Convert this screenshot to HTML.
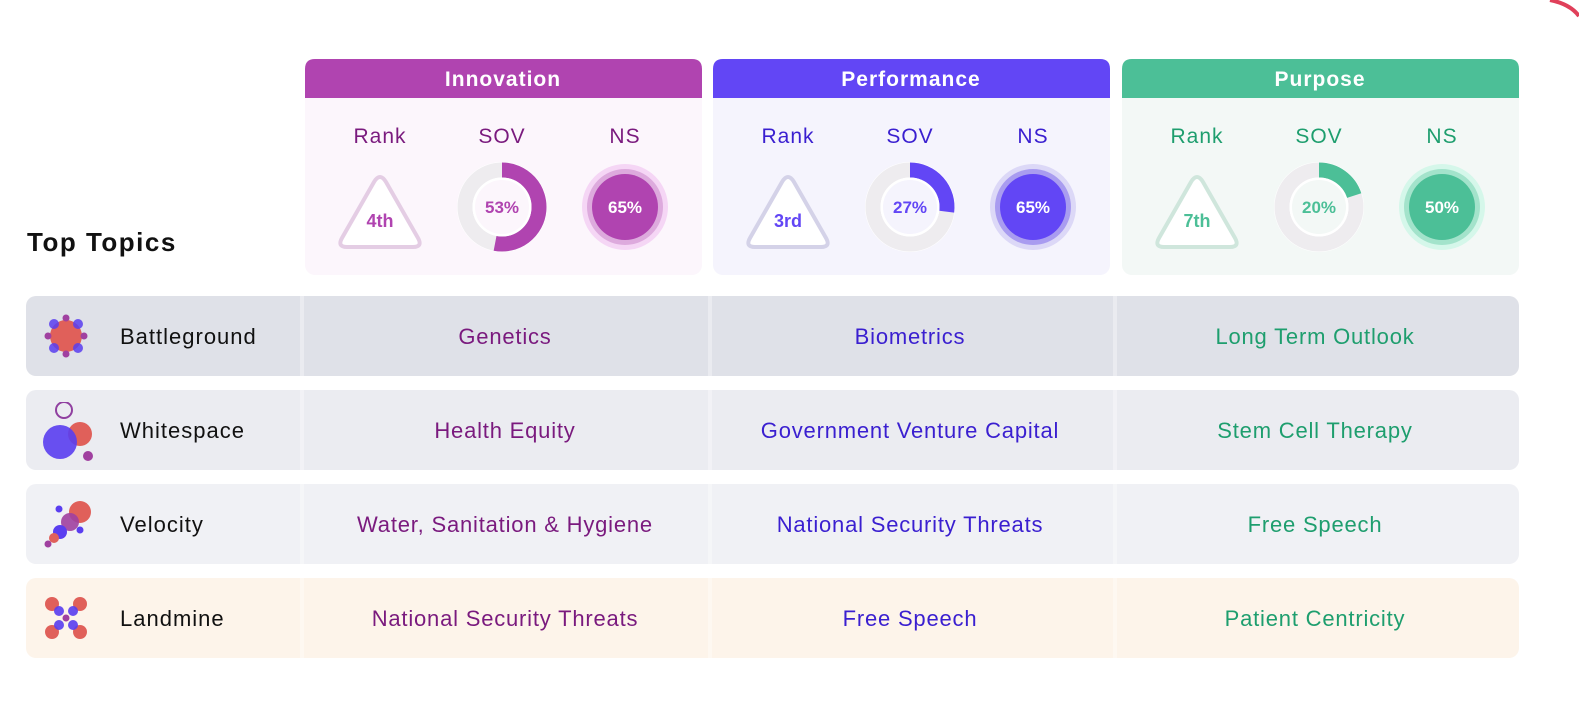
<!DOCTYPE html>
<html><head><meta charset="utf-8">
<style>
body{margin:0;width:1579px;height:703px;background:#fff;font-family:"Liberation Sans","DejaVu Sans",sans-serif;position:relative;overflow:hidden}
.abs{position:absolute}
.title{left:27px;top:227px;font-size:26px;letter-spacing:1.5px;font-weight:bold;color:#111}
.row{position:absolute;left:26px;width:1493px;height:80px;border-radius:10px}
.sep{position:absolute;top:0;width:4px;height:80px;background:rgba(255,255,255,0.35)}
.rlabel{position:absolute;left:94px;top:28px;font-size:22px;letter-spacing:1px;color:#111}
.cell{position:absolute;top:28px;width:440px;text-align:center;font-size:22px;letter-spacing:0.8px}
</style></head>
<body>
<svg class="abs" style="left:1520px;top:0" width="59" height="30"><path d="M30,0 Q50,4 59,16" stroke="#e0405a" stroke-width="4" fill="none"/></svg>
<div class="abs title">Top Topics</div>
<svg id="chart" class="abs" style="left:0;top:0" width="1579" height="290"></svg>
<div id="rows"></div>
<script>
const pillars=["Innovation","Performance","Purpose"];
const ranks=["4th","3rd","7th"];
const sov=[53,27,20];
const ns=[65,65,50];
const topics=["Battleground","Whitespace","Velocity","Landmine"];
const cellsInnovation=["Genetics","Health Equity","Water, Sanitation & Hygiene","National Security Threats"];
const cellsPerformance=["Biometrics","Government Venture Capital","National Security Threats","Free Speech"];
const cellsPurpose=["Long Term Outlook","Stem Cell Therapy","Free Speech","Patient Centricity"];

const theme=[
 {head:"#b044b0",text:"#7a1a7e",body:"#fcf6fc",tri:"#e4cde4",val:"#b044b0",ring1:"#f5d6f5",ring2:"#ddaadd"},
 {head:"#6246f5",text:"#3a1fd0",body:"#f5f4fd",tri:"#d4d2e8",val:"#6246f5",ring1:"#dcd8f7",ring2:"#a99cf0"},
 {head:"#4cbf97",text:"#1e9e6e",body:"#f3f8f6",tri:"#cfe6dc",val:"#4cbf97",ring1:"#d5f7ea",ring2:"#a3e3cb"}];
const NS="http://www.w3.org/2000/svg";
const svg=document.getElementById('chart');
function mk(t,a,p){const e=document.createElementNS(NS,t);for(const k in a)e.setAttribute(k,a[k]);(p||svg).appendChild(e);return e;}
const px=[305,713,1122];
pillars.forEach((p,i)=>{
 const x=px[i],th=theme[i];
 const g=mk('g',{});
 
 
 mk('rect',{x:x,y:59,width:397,height:216,rx:10,fill:th.body},g);
 mk('path',{d:`M${x},98 V69 Q${x},59 ${x+10},59 H${x+387} Q${x+397},59 ${x+397},69 V98 Z`,fill:th.head},g);
 const h=mk('text',{x:x+198,y:86,'text-anchor':'middle','font-size':21,'letter-spacing':1,'font-weight':'bold',fill:'#fff'},g);h.textContent=p;
 [["Rank",75],["SOV",197],["NS",320]].forEach(([l,o])=>{const t=mk('text',{x:x+o,y:143,'text-anchor':'middle','font-size':21,'letter-spacing':1,fill:th.text},g);t.textContent=l;});
 const cx=x+75;
 mk('path',{d:`M${cx-6},182 Q${cx},172 ${cx+6},182 L${cx+38},238 Q${cx+43},247 ${cx+33},247 L${cx-33},247 Q${cx-43},247 ${cx-38},238 Z`,fill:'#fff',stroke:th.tri,'stroke-width':4},g);
 const rt=mk('text',{x:cx,y:227,'text-anchor':'middle','font-size':18,'font-weight':'bold',fill:th.val},g);rt.textContent=ranks[i];
 
 const dx=x+197,dy=207,r=37;
 mk('circle',{cx:dx,cy:dy,r:45,fill:'#fff'},g);
 mk('circle',{cx:dx,cy:dy,r:r,fill:'none',stroke:'#eeecef','stroke-width':15},g);
 const a=sov[i]/100*2*Math.PI;
 const ex=dx+r*Math.sin(a),ey=dy-r*Math.cos(a);
 const arc=mk('path',{d:`M${dx},${dy-r} A${r},${r} 0 ${sov[i]>50?1:0} 1 ${ex},${ey}`,fill:'none',stroke:th.val,'stroke-width':15},g);
 
 mk('circle',{cx:dx,cy:dy,r:29.5,fill:'#fff'},g);
 mk('circle',{cx:dx,cy:dy,r:27,fill:th.body},g);
 const st=mk('text',{x:dx,y:dy+6,'text-anchor':'middle','font-size':17,'font-weight':'bold',fill:th.val},g);st.textContent=sov[i]+'%';
 const nx=x+320;
 mk('circle',{cx:nx,cy:dy,r:43,fill:th.ring1},g);
 mk('circle',{cx:nx,cy:dy,r:38,fill:th.ring2},g);
 const nc=mk('circle',{cx:nx,cy:dy,r:33,fill:th.val},g);
 
 const nt=mk('text',{x:nx,y:dy+6,'text-anchor':'middle','font-size':17,'font-weight':'bold',fill:'#fff'},g);nt.textContent=ns[i]+'%';
});
const rowBg=["#dfe1e8","#ebecf1","#f0f1f5","#fdf4ea"];
const icons=[
`<circle cx="24" cy="24" r="16" fill="#e0605a"/><g fill="#5a3ef0" opacity=".85"><circle cx="12" cy="12" r="5"/><circle cx="36" cy="12" r="5"/><circle cx="12" cy="36" r="5"/><circle cx="36" cy="36" r="5"/></g><g fill="#a040a0"><circle cx="24" cy="6" r="3.5"/><circle cx="24" cy="42" r="3.5"/><circle cx="6" cy="24" r="3.5"/><circle cx="42" cy="24" r="3.5"/></g>`,
`<circle cx="22" cy="8" r="8" fill="none" stroke="#9040a0" stroke-width="2"/><circle cx="38" cy="32" r="12" fill="#e0605a"/><circle cx="18" cy="40" r="17" fill="#5a3ef0" opacity=".9"/><circle cx="46" cy="54" r="5" fill="#a040a0"/>`,
`<circle cx="38" cy="12" r="11" fill="#e0605a"/><circle cx="28" cy="22" r="9" fill="#a040a0" opacity=".9"/><circle cx="18" cy="32" r="7" fill="#5a3ef0"/><circle cx="12" cy="38" r="5" fill="#e0605a"/><circle cx="6" cy="44" r="3.5" fill="#a040a0"/><circle cx="17" cy="9" r="3.5" fill="#5a3ef0"/><circle cx="38" cy="30" r="3.5" fill="#5a3ef0"/>`,
`<g fill="#e0605a"><circle cx="10" cy="10" r="7"/><circle cx="38" cy="10" r="7"/><circle cx="10" cy="38" r="7"/><circle cx="38" cy="38" r="7"/></g><g fill="#5a3ef0" opacity=".9"><circle cx="17" cy="17" r="5"/><circle cx="31" cy="17" r="5"/><circle cx="17" cy="31" r="5"/><circle cx="31" cy="31" r="5"/></g><circle cx="24" cy="24" r="3.5" fill="#a040a0"/>`];
const rowTops=[296,390,484,578];
const cols=[cellsInnovation,cellsPerformance,cellsPurpose];
const colCenters=[479,884,1289];
const container=document.getElementById('rows');
topics.forEach((t,i)=>{
 const r=document.createElement('div');r.className='row';r.style.top=rowTops[i]+'px';r.style.background=rowBg[i];
 
 
 let h=`<svg style="position:absolute;left:16px;top:${i==1?12:16}px" width="60" height="60">${icons[i]}</svg>`;
 h+=`<div class="rlabel">${t}</div>`;
 [274,682,1087].forEach(s=>h+=`<div class="sep" style="left:${s}px"></div>`);
 cols.forEach((c,j)=>{h+=`<div class="cell" style="left:${colCenters[j]-220}px;color:${theme[j].text}">${c[i].replace('&','&amp;')}</div>`;});
 r.innerHTML=h;container.appendChild(r);
});
</script>
</body></html>
